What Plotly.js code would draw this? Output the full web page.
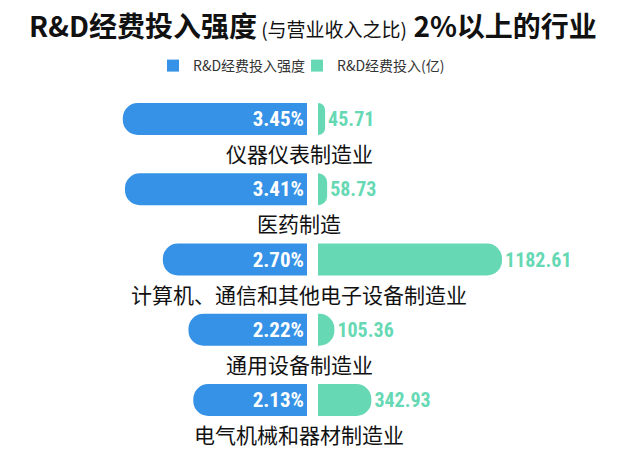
<!DOCTYPE html>
<html>
<head>
<meta charset="utf-8">
<script src="https://cdn.plot.ly/plotly-3.0.1.min.js"></script>
<style>
  html, body { margin: 0; padding: 0; background: #ffffff; }
  #chart { width: 640px; height: 462px; }
</style>
</head>
<body>
<div id="chart"></div>
<script>
// ---- data ----
const categories = ["仪器仪表制造业", "医药制造", "计算机、通信和其他电子设备制造业", "通用设备制造业", "电气机械和器材制造业"];
const intensity = [3.45, 3.41, 2.70, 2.22, 2.13];          // R&D经费投入强度 (%)
const spending = [45.71, 58.73, 1182.61, 105.36, 342.93];   // R&D经费投入 (亿)
const seriesNames = ["R&amp;D经费投入强度", "R&amp;D经费投入(亿)"];

// ---- style ----
const W = 640, H = 462;
const BLUE = "#3592E6", GREEN = "#66D9B4";
const CJK = "Noto Sans CJK SC, Noto Sans, sans-serif";
const NUM = "Roboto Condensed, Liberation Sans Narrow, Roboto, sans-serif";

const traces = [
  {
    type: "bar", orientation: "h", name: seriesNames[0], showlegend: false,
    x: intensity, y: categories, xaxis: "x", yaxis: "y",
    marker: { color: BLUE, cornerradius: "50%" },
    texttemplate: "%{x:.2f}%", textposition: "inside", insidetextanchor: "start",
    textfont: { family: NUM, size: 21, color: "#ffffff", weight: 700 },
    hoverinfo: "skip"
  },
  {
    type: "bar", orientation: "h", name: seriesNames[1], showlegend: false,
    x: spending, y: categories, xaxis: "x2", yaxis: "y",
    marker: { color: GREEN, cornerradius: "50%" },
    texttemplate: "%{x:.2f}", textposition: "outside", cliponaxis: false,
    textfont: { family: NUM, size: 20, color: GREEN, weight: 700 },
    hoverinfo: "skip"
  },
  // legend keys (square swatches, no marks drawn)
  { type: "bar", orientation: "h", name: seriesNames[0], x: [null], y: [categories[0]],
    xaxis: "x", yaxis: "y", marker: { color: BLUE }, hoverinfo: "skip", legend: "legend" },
  { type: "bar", orientation: "h", name: seriesNames[1], x: [null], y: [categories[0]],
    xaxis: "x2", yaxis: "y", marker: { color: GREEN }, hoverinfo: "skip", legend: "legend2" }
];

const annotations = categories.map(c => ({
  text: c, xref: "paper", x: 299 / W, xanchor: "center",
  yref: "y", y: c, yanchor: "middle", yshift: -34,
  showarrow: false,
  font: { family: CJK, size: 21, color: "#111111" }
}));

const legendBase = {
  orientation: "h", yanchor: "middle", y: 1 - 66 / H, xanchor: "left",
  font: { family: CJK, size: 14, color: "#333333" },
  itemwidth: 30, itemclick: false, bgcolor: "rgba(0,0,0,0)"
};

const layout = {
  width: W, height: H,
  margin: { l: 0, r: 0, t: 0, b: 0 },
  paper_bgcolor: "#ffffff", plot_bgcolor: "#ffffff",
  title: {
    text: "<b>R&amp;D经费投入强度</b><span style=\"font-size:19px\"> (与营业收入之比)</span><b> 2%以上的行业</b>",
    font: { family: CJK, size: 28, color: "#111111" },
    x: 313 / W, xanchor: "center", y: 1 - 27 / H, yanchor: "middle"
  },
  showlegend: true,
  legend: Object.assign({}, legendBase, { x: 153 / W }),
  legend2: Object.assign({}, legendBase, { x: 297 / W }),
  barmode: "overlay",
  bargap: 0.545,
  xaxis: {
    domain: [0, 307 / W], range: [5.75, 0], anchor: "y",
    showgrid: false, zeroline: false, showticklabels: false, showline: false, fixedrange: true
  },
  xaxis2: {
    domain: [318 / W, 1], range: [0, 2069], anchor: "y",
    showgrid: false, zeroline: false, showticklabels: false, showline: false, fixedrange: true
  },
  yaxis: {
    type: "category", categoryorder: "array", categoryarray: categories,
    range: [4.5, -0.5], domain: [1 - 435.1 / H, 1 - 83.9 / H],
    showgrid: false, zeroline: false, showticklabels: false, showline: false, fixedrange: true
  },
  annotations: annotations
};

Plotly.newPlot("chart", traces, layout, { displayModeBar: false, staticPlot: true });
</script>
</body>
</html>
